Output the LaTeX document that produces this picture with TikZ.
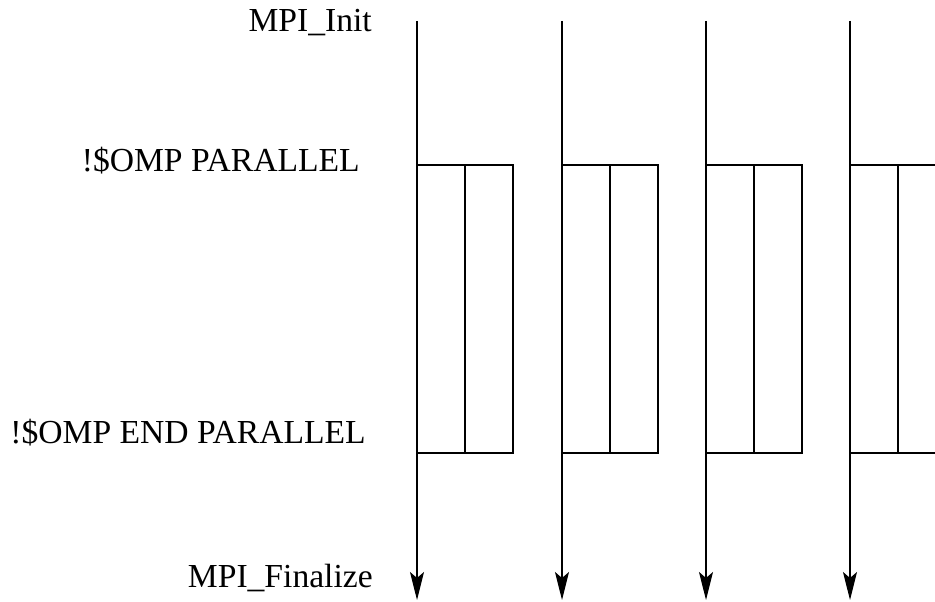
\documentclass[tikz,border=0pt]{standalone}
\usepackage{fontspec}
\setmainfont{Liberation Serif}
\usetikzlibrary{arrows.meta}
\tikzset{
  lbl/.style={anchor=base east,inner sep=0pt,font=\fontsize{25.2}{30}\selectfont},
  proc/.style={line width=0.9pt,-{Stealth[length=21pt,width=10.5pt,inset=4.5pt]}},
  team/.style={line width=0.9pt}
}
\begin{document}
\begin{tikzpicture}[x=0.75pt,y=-0.75pt]
                \useasboundingbox (0,0) rectangle (935,602);
                \clip (0,0) rectangle (935,602);
                \node[lbl] (init) at (372,32) {MPI\_Init};
                \node[lbl] (par) at (360,172) {!\$OMP PARALLEL};
                \node[lbl] (endpar) at (366,443) {!\$OMP END PARALLEL};
                \node[lbl] (fin) at (373,587) {MPI\_Finalize};
                \foreach \i/\x in {1/417,2/562,3/706,4/850} {
                  \coordinate (top\i) at (\x,21);
                  \coordinate (bot\i) at (\x,600);
                  \draw[proc] (top\i) -- (bot\i);
                  \coordinate (fork\i) at (\x,165);
                  \coordinate (join\i) at (\x+96,453);
                  \draw[team] (fork\i) rectangle (join\i);
                  \draw[team] (\x+48,165) -- (\x+48,453);
                }
            \end{tikzpicture}
\end{document}
